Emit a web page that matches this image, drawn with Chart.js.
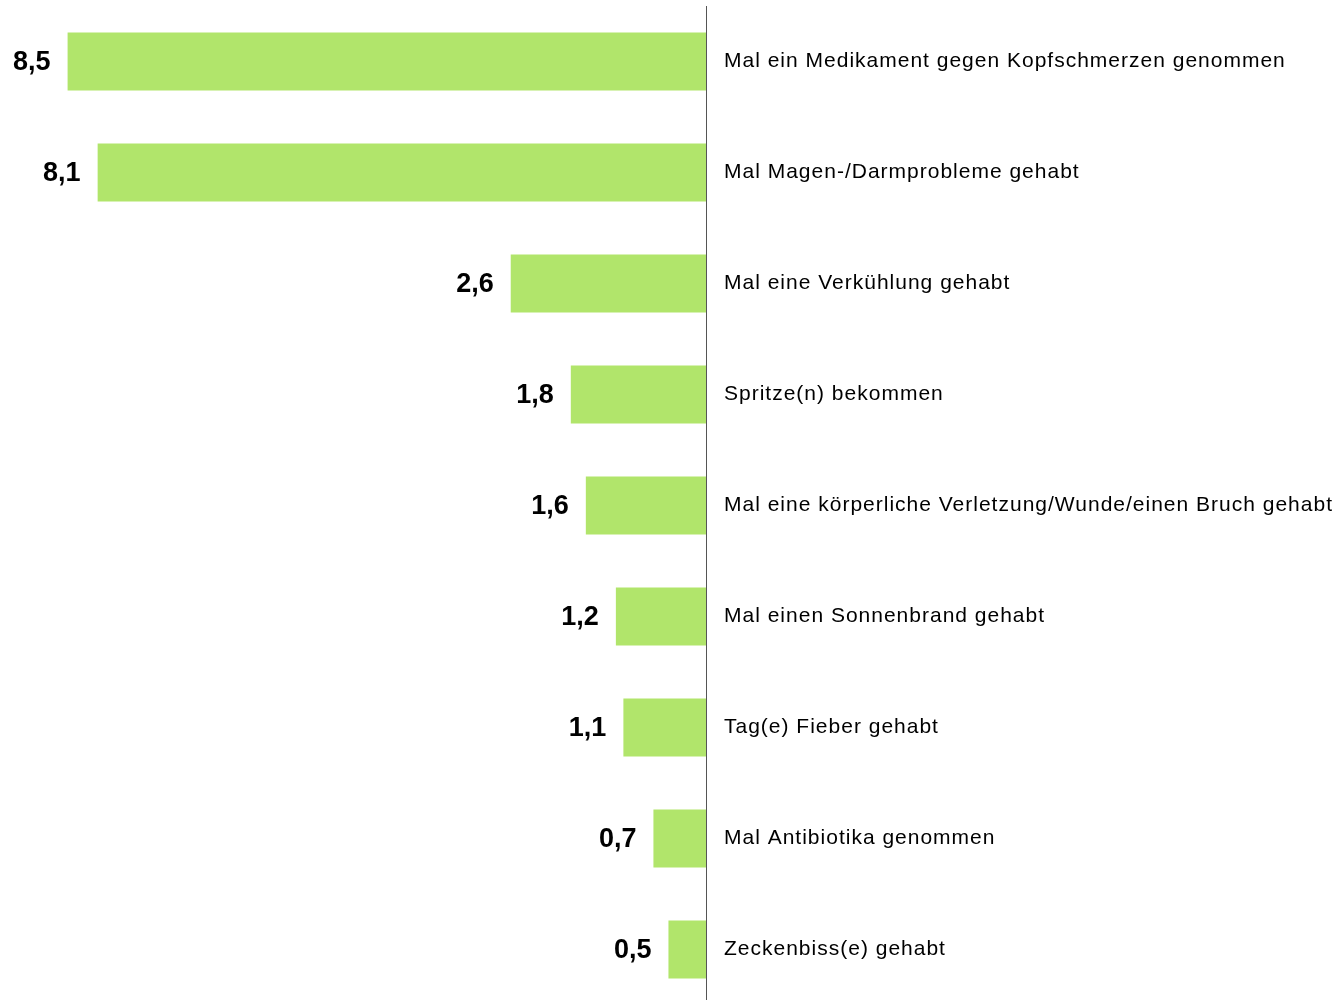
<!DOCTYPE html>
<html lang="de">
<head>
    <meta charset="UTF-8">
    <title>Gesundheit</title>
    <script src="https://cdn.jsdelivr.net/npm/chart.js"></script>
    <style>
        html, body { margin: 0; padding: 0; background: #fff; overflow: hidden; }
        #wrap { width: 1344px; height: 1000px; overflow: hidden; }
    </style>
</head>
<body>
    <!-- canvas runs a few px past the bottom edge, the last bar sits close to it in the original -->
    <div id="wrap"><canvas id="chart" width="1344" height="1005"></canvas></div>

    <script>
        const categories = [
            'Mal ein Medikament gegen Kopfschmerzen genommen',
            'Mal Magen-/Darmprobleme gehabt',
            'Mal eine Verkühlung gehabt',
            'Spritze(n) bekommen',
            'Mal eine körperliche Verletzung/Wunde/einen Bruch gehabt',
            'Mal einen Sonnenbrand gehabt',
            'Tag(e) Fieber gehabt',
            'Mal Antibiotika genommen',
            'Zeckenbiss(e) gehabt'
        ];
        const values = [8.5, 8.1, 2.6, 1.8, 1.6, 1.2, 1.1, 0.7, 0.5];

        const FONT = '"Liberation Sans", Arial, Helvetica, sans-serif';

        // the category labels are a bit spaced out in the original
        // (set before each draw, canvas resize wipes the ctx state)
        const spacing = {
            id: 'spacing',
            beforeDraw(chart) { chart.ctx.letterSpacing = '1px'; }
        };

        // value labels left of each bar, german decimal comma
        const valueLabels = {
            id: 'valueLabels',
            afterDatasetsDraw(chart) {
                const ctx = chart.ctx;
                const meta = chart.getDatasetMeta(0);
                ctx.save();
                ctx.letterSpacing = '0px';
                ctx.font = 'bold 27px ' + FONT;
                ctx.fillStyle = '#000';
                ctx.textAlign = 'right';
                ctx.textBaseline = 'middle';
                meta.data.forEach((bar, i) => {
                    const txt = values[i].toFixed(1).replace('.', ',');
                    ctx.fillText(txt, bar.x - 17, bar.y + 1);
                });
                ctx.restore();
            }
        };

        new Chart(document.getElementById('chart').getContext('2d'), {
            type: 'bar',
            data: {
                labels: categories,
                datasets: [{
                    data: values,
                    backgroundColor: '#b1e56b',
                    borderWidth: 0,
                    categoryPercentage: 1,
                    barPercentage: 0.523
                }]
            },
            options: {
                indexAxis: 'y',
                responsive: false,
                animation: false,
                layout: { padding: { top: 6, bottom: 0, left: 0, right: 0 } },
                plugins: {
                    legend: { display: false },
                    tooltip: { enabled: false }
                },
                scales: {
                    x: {
                        display: false,
                        reverse: true,
                        min: 0,
                        max: 9.4
                    },
                    y: {
                        position: 'right',
                        grid: { display: false },
                        border: { display: true, color: '#555', width: 1 },
                        ticks: {
                            padding: 10,
                            color: '#000',
                            font: { family: FONT, size: 21 }
                        },
                        afterFit(scale) {
                            scale.width = 638;
                            scale.paddingTop = 0;
                            scale.paddingBottom = 0;
                        }
                    }
                }
            },
            plugins: [spacing, valueLabels]
        });
    </script>
</body>
</html>
